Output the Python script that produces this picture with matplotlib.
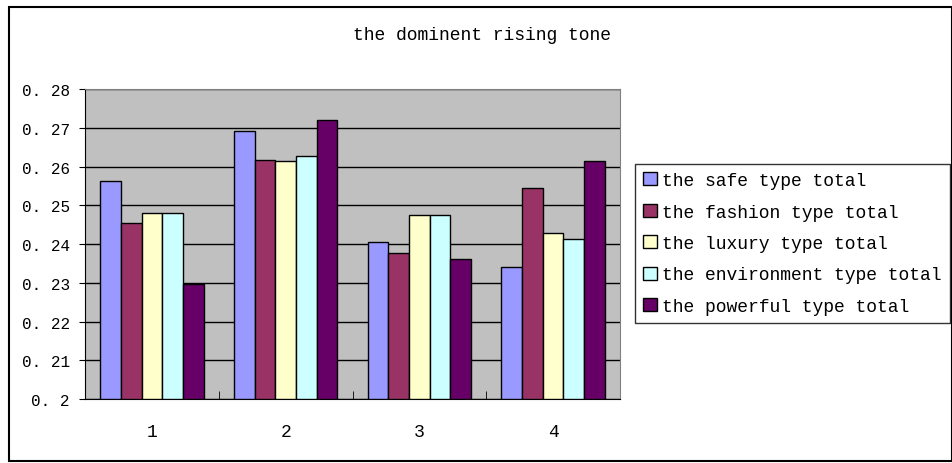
import matplotlib.pyplot as plt
import matplotlib.patches as mpatches
import numpy as np

plt.rcParams['font.family'] = ['Liberation Mono', 'DejaVu Sans Mono']

# data
groups = ["1", "2", "3", "4"]
series = ["the safe type total", "the fashion type total", "the luxury type total",
          "the environment type total", "the powerful type total"]
safe = [0.2563, 0.2692, 0.2404, 0.2341]
fashion = [0.2455, 0.2618, 0.2378, 0.2544]
luxury = [0.2479, 0.2614, 0.2476, 0.2428]
environment = [0.2479, 0.2628, 0.2476, 0.2412]
powerful = [0.2298, 0.2720, 0.2361, 0.2614]
colors = ["#9999FF", "#993366", "#FFFFCC", "#CCFFFF", "#660066"]
yticks = [0.2, 0.21, 0.22, 0.23, 0.24, 0.25, 0.26, 0.27, 0.28]
ylabels = ["0. 2", "0. 21", "0. 22", "0. 23", "0. 24", "0. 25", "0. 26", "0. 27", "0. 28"]

fig = plt.figure(figsize=(9.53, 4.64), dpi=100)
ax = fig.add_axes([85/953, 64/464, 535/953, 310/464])
ax.set_facecolor("#C0C0C0")

x = np.arange(1, len(groups) + 1)
w = 0.155
allvals = [safe, fashion, luxury, environment, powerful]
for i, vals in enumerate(allvals):
    ax.bar(x + (i - 2) * w, np.array(vals) - 0.2, w, bottom=0.2, color=colors[i],
           edgecolor="black", linewidth=1, label=series[i], zorder=3)

ax.set_xlim(0.5, 4.5)
ax.set_ylim(0.2, 0.28)
ax.set_yticks(yticks)
ax.set_yticklabels(ylabels, fontsize=11.5)
ax.yaxis.grid(True, color="black", linewidth=1)
ax.set_axisbelow(True)
ax.set_xticks(x)
ax.set_xticklabels(groups, fontsize=13)
ax.set_xticks([1.5, 2.5, 3.5, 4.5], minor=True)
ax.tick_params(axis="x", which="major", length=0, pad=17)
ax.tick_params(axis="x", which="minor", direction="in", length=6, color="black")
ax.tick_params(axis="y", length=4, color="black", pad=7)

for s in ["top", "right"]:
    ax.spines[s].set_color("#808080")
ax.spines["left"].set_color("black")
ax.spines["bottom"].set_color("black")

fig.text(482/953, 1 - 35/464, "the dominent rising tone", ha="center", va="center", fontsize=13)

leg = fig.legend(loc="upper left", bbox_to_anchor=(635/953, 1 - 165/464), fontsize=13,
                 handlelength=0.75, handleheight=0.75, handletextpad=0.3,
                 labelspacing=0.8, borderpad=0.45, borderaxespad=0, frameon=True,
                 fancybox=False)
leg.get_frame().set_edgecolor("black")
leg.get_frame().set_linewidth(1)

fig.patches.append(mpatches.Rectangle((9/953, 2/464), 943/953, 454/464, transform=fig.transFigure,
                                      fill=False, edgecolor="black", linewidth=1.5))

fig.savefig("out.png", dpi=100)
